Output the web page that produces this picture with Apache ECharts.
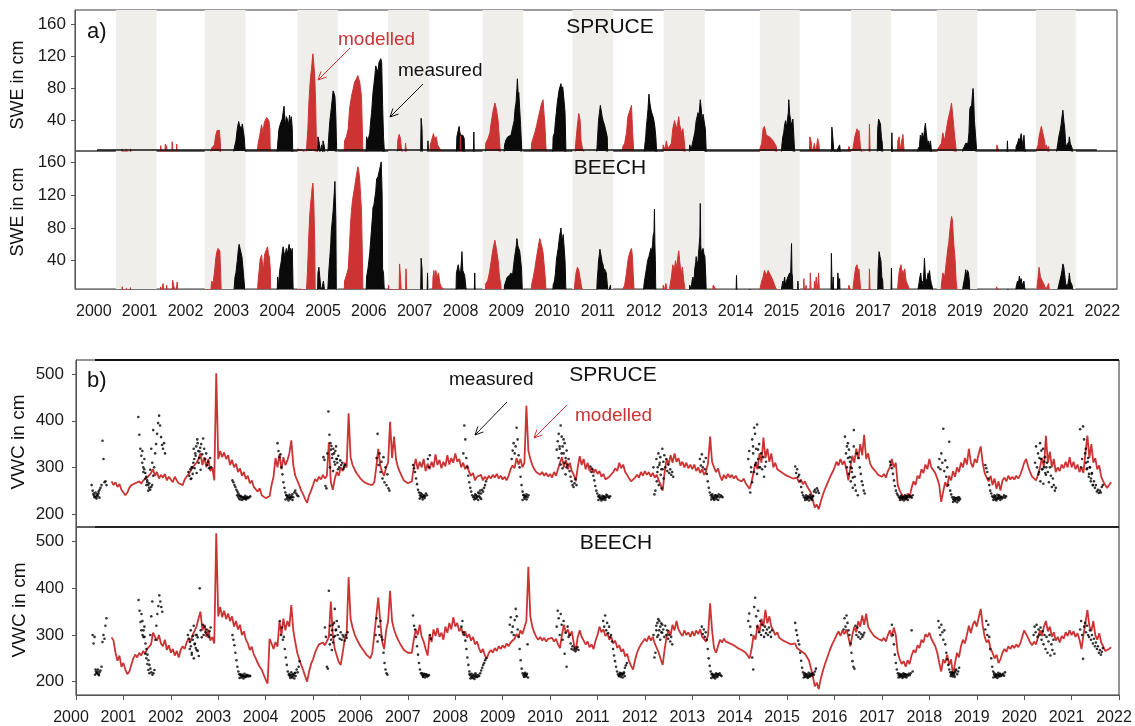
<!DOCTYPE html>
<html>
<head>
<meta charset="utf-8">
<script src="https://cdn.jsdelivr.net/npm/echarts@6/dist/echarts.min.js"></script>
<style>html,body{margin:0;padding:0;background:#fff}#c{width:1135px;height:726px}</style>
</head>
<body>
<div id="c"></div>
<script>
// ---------- tick labels ----------
const yearTicks = [2000,2001,2002,2003,2004,2005,2006,2007,2008,2009,2010,2011,2012,2013,2014,2015,2016,2017,2018,2019,2020,2021,2022];
const sweTicks = [40,80,120,160];
const vwcTicks = [200,300,400,500];
// shaded winters in panel a (decimal years)
const bandsA = [[2000.48,2001.37],[2002.42,2003.31],[2004.44,2005.32],[2006.42,2007.32],[2008.48,2009.37],[2010.44,2011.33],[2012.43,2013.33],[2014.53,2015.40],[2016.52,2017.39],[2018.39,2019.27],[2020.55,2021.42]];

// ---------- SWE spruce, modelled (red) : groups of [year, cm] ----------
const sweSpruceMod = [
 [[2000.61,0],[2000.62,5],[2000.64,0],[2000.70,0],[2000.71,5],[2000.73,0],[2000.79,0],[2000.80,5],[2000.82,0]],
 [[2001.45,0],[2001.46,9],[2001.48,0],[2001.55,0],[2001.56,11],[2001.59,8],[2001.60,0],[2001.70,0],[2001.71,14],[2001.73,0],[2001.80,0],[2001.81,11],[2001.82,0]],
 [[2002.55,0],[2002.57,6],[2002.60,4],[2002.63,10],[2002.66,22],[2002.69,28],[2002.71,30],[2002.74,28],[2002.76,14],[2002.77,0]],
 [[2003.57,0],[2003.58,10],[2003.62,22],[2003.66,35],[2003.69,25],[2003.72,38],[2003.74,40],[2003.77,44],[2003.79,45],[2003.82,40],[2003.84,30],[2003.85,0]],
 [[2004.44,0],[2004.45,5],[2004.50,4],[2004.54,6],[2004.58,3],[2004.60,0]],
 [[2004.63,0],[2004.64,5],[2004.67,30],[2004.69,60],[2004.71,80],[2004.73,95],[2004.75,105],[2004.77,118],[2004.78,123],[2004.80,110],[2004.82,95],[2004.84,60],[2004.86,0]],
 [[2005.46,0],[2005.47,15],[2005.51,20],[2005.55,30],[2005.58,55],[2005.62,70],[2005.66,80],[2005.69,88],[2005.73,92],[2005.76,96],[2005.80,88],[2005.84,70],[2005.87,0]],
 [[2006.62,0],[2006.63,15],[2006.66,23],[2006.69,18],[2006.72,0],[2006.79,0],[2006.80,12],[2006.82,0]],
 [[2007.33,0],[2007.34,10],[2007.38,18],[2007.41,24],[2007.44,16],[2007.47,20],[2007.50,10],[2007.54,6],[2007.58,4],[2007.60,0]],
 [[2007.99,0],[2008.00,25],[2008.01,0]],
 [[2008.54,0],[2008.55,12],[2008.60,18],[2008.64,25],[2008.67,38],[2008.71,52],[2008.75,62],[2008.78,55],[2008.82,40],[2008.85,15],[2008.87,0]],
 [[2009.54,0],[2009.55,12],[2009.62,25],[2009.66,34],[2009.69,42],[2009.73,52],[2009.76,60],[2009.78,62],[2009.80,66],[2009.82,50],[2009.84,35],[2009.87,0]],
 [[2010.50,0],[2010.51,10],[2010.55,35],[2010.58,49],[2010.61,40],[2010.63,15],[2010.66,5],[2010.70,3],[2010.71,0]],
 [[2011.53,0],[2011.54,8],[2011.58,12],[2011.62,25],[2011.65,45],[2011.69,52],[2011.73,59],[2011.75,30],[2011.78,0]],
 [[2012.41,0],[2012.42,10],[2012.46,4],[2012.49,15],[2012.52,5],[2012.56,3],[2012.60,12],[2012.63,30],[2012.67,40],[2012.71,30],[2012.74,38],[2012.76,45],[2012.78,35],[2012.82,25],[2012.85,30],[2012.89,10],[2012.90,0]],
 [[2014.52,0],[2014.53,5],[2014.57,12],[2014.60,30],[2014.63,33],[2014.67,22],[2014.71,24],[2014.74,20],[2014.78,22],[2014.82,15],[2014.85,16],[2014.89,8],[2014.90,0]],
 [[2015.61,0],[2015.62,20],[2015.65,14],[2015.67,0],[2015.71,0],[2015.72,12],[2015.75,0],[2015.78,0],[2015.79,18],[2015.82,10],[2015.83,0]],
 [[2016.46,0],[2016.47,8],[2016.50,3],[2016.56,5],[2016.60,20],[2016.63,26],[2016.65,30],[2016.67,20],[2016.69,28],[2016.72,10],[2016.74,0],[2016.91,0],[2016.92,36],[2016.935,0]],
 [[2017.53,0],[2017.54,15],[2017.57,20],[2017.59,4],[2017.63,3],[2017.65,23],[2017.67,8],[2017.68,0]],
 [[2018.40,0],[2018.41,5],[2018.45,3],[2018.49,12],[2018.52,25],[2018.56,15],[2018.60,30],[2018.63,40],[2018.67,50],[2018.69,55],[2018.71,62],[2018.74,45],[2018.78,20],[2018.81,5],[2018.82,0]],
 [[2019.69,0],[2019.70,10],[2019.72,6],[2019.74,8],[2019.75,0]],
 [[2020.56,0],[2020.57,5],[2020.60,10],[2020.62,20],[2020.65,28],[2020.67,33],[2020.70,25],[2020.74,15],[2020.76,5],[2020.78,10],[2020.81,4],[2020.83,8],[2020.84,0]]
];
// ---------- SWE spruce, measured (black) ----------
const sweSpruceMeas = [
 [[2003.05,0],[2003.06,5],[2003.10,15],[2003.13,30],[2003.16,39],[2003.18,34],[2003.20,35],[2003.22,30],[2003.24,36],[2003.26,28],[2003.28,20],[2003.30,4],[2003.33,3],[2003.34,0]],
 [[2004.00,0],[2004.01,10],[2004.04,30],[2004.07,36],[2004.09,38],[2004.11,42],[2004.13,50],[2004.15,58],[2004.17,40],[2004.18,36],[2004.20,45],[2004.22,42],[2004.25,35],[2004.27,47],[2004.29,38],[2004.31,45],[2004.33,30],[2004.34,0]],
 [[2004.88,0],[2004.89,20],[2004.92,12],[2004.93,0],[2004.96,0],[2004.97,10],[2004.99,0],[2005.00,15],[2005.03,8],[2005.04,0]],
 [[2005.10,0],[2005.11,5],[2005.13,25],[2005.15,40],[2005.17,50],[2005.18,55],[2005.20,66],[2005.22,77],[2005.24,74],[2005.26,70],[2005.28,45],[2005.29,20],[2005.30,0]],
 [[2005.94,0],[2005.95,20],[2005.98,15],[2006.02,25],[2006.04,40],[2006.06,50],[2006.09,75],[2006.11,85],[2006.13,95],[2006.15,108],[2006.17,105],[2006.20,100],[2006.22,112],[2006.24,110],[2006.26,117],[2006.28,112],[2006.30,60],[2006.32,20],[2006.34,0]],
 [[2007.13,0],[2007.14,43],[2007.16,30],[2007.17,0]],
 [[2007.28,0],[2007.29,15],[2007.30,0]],
 [[2007.91,0],[2007.92,20],[2007.95,28],[2007.97,33],[2007.99,22],[2008.02,20],[2008.05,22],[2008.08,18],[2008.09,0]],
 [[2008.28,0],[2008.29,26],[2008.30,0]],
 [[2008.95,0],[2008.96,10],[2008.99,16],[2009.03,20],[2009.06,18],[2009.10,22],[2009.13,24],[2009.15,35],[2009.17,40],[2009.19,55],[2009.21,62],[2009.23,80],[2009.24,92],[2009.26,70],[2009.27,75],[2009.29,55],[2009.31,35],[2009.33,10],[2009.34,0]],
 [[2010.01,0],[2010.02,20],[2010.05,25],[2010.07,40],[2010.09,50],[2010.11,62],[2010.13,70],[2010.15,78],[2010.17,82],[2010.19,86],[2010.21,78],[2010.23,82],[2010.25,70],[2010.28,50],[2010.30,0]],
 [[2010.97,0],[2010.98,10],[2011.00,30],[2011.01,40],[2011.03,50],[2011.05,59],[2011.07,52],[2011.09,45],[2011.11,40],[2011.12,42],[2011.14,35],[2011.16,30],[2011.18,25],[2011.20,20],[2011.21,0]],
 [[2012.01,0],[2012.02,10],[2012.04,20],[2012.05,30],[2012.07,42],[2012.09,55],[2012.11,73],[2012.13,62],[2012.14,60],[2012.16,52],[2012.18,50],[2012.20,45],[2012.22,40],[2012.24,32],[2012.26,20],[2012.28,0]],
 [[2012.99,0],[2013.00,10],[2013.03,5],[2013.06,12],[2013.09,20],[2013.11,25],[2013.13,35],[2013.14,40],[2013.16,45],[2013.18,50],[2013.20,45],[2013.23,66],[2013.25,55],[2013.27,40],[2013.29,48],[2013.31,50],[2013.34,30],[2013.36,0]],
 [[2015.00,0],[2015.01,10],[2015.03,20],[2015.05,25],[2015.07,35],[2015.09,40],[2015.11,32],[2015.13,30],[2015.15,50],[2015.16,66],[2015.18,48],[2015.19,45],[2015.21,38],[2015.23,35],[2015.25,42],[2015.27,40],[2015.29,0]],
 [[2016.09,0],[2016.10,32],[2016.12,20],[2016.14,4],[2016.16,0],[2016.22,0],[2016.23,5],[2016.25,4],[2016.27,10],[2016.29,0]],
 [[2017.09,0],[2017.10,30],[2017.12,42],[2017.14,40],[2017.16,36],[2017.18,20],[2017.20,12],[2017.21,0]],
 [[2017.40,0],[2017.41,25],[2017.42,0]],
 [[2017.97,0],[2017.98,5],[2018.01,8],[2018.03,22],[2018.05,15],[2018.07,25],[2018.10,18],[2018.12,28],[2018.14,37],[2018.16,25],[2018.17,20],[2018.19,10],[2018.21,15],[2018.23,8],[2018.25,15],[2018.27,5],[2018.28,0]],
 [[2018.95,0],[2018.96,5],[2018.99,8],[2019.02,12],[2019.05,14],[2019.07,12],[2019.09,25],[2019.11,55],[2019.13,58],[2019.14,50],[2019.16,68],[2019.18,80],[2019.19,72],[2019.21,40],[2019.23,25],[2019.25,10],[2019.26,0]],
 [[2019.92,0],[2019.93,15],[2019.94,0]],
 [[2020.11,0],[2020.12,8],[2020.15,12],[2020.18,18],[2020.20,15],[2020.23,24],[2020.25,15],[2020.27,8],[2020.29,22],[2020.31,5],[2020.33,0]],
 [[2021.00,0],[2021.01,5],[2021.03,12],[2021.05,20],[2021.08,28],[2021.10,35],[2021.12,45],[2021.14,53],[2021.16,40],[2021.18,30],[2021.20,12],[2021.21,8],[2021.23,6],[2021.25,10],[2021.27,14],[2021.28,20],[2021.30,12],[2021.32,10],[2021.34,6],[2021.35,8],[2021.36,0]]
];
// ---------- SWE beech, modelled (red) ----------
const sweBeechMod = [
 [[2000.61,0],[2000.62,8],[2000.64,0],[2000.70,0],[2000.71,6],[2000.73,0],[2000.79,0],[2000.80,7],[2000.82,0]],
 [[2001.45,0],[2001.46,8],[2001.48,0],[2001.50,0],[2001.51,12],[2001.53,0],[2001.58,0],[2001.59,10],[2001.61,0],[2001.71,0],[2001.72,16],[2001.74,10],[2001.77,8],[2001.79,0],[2001.81,0],[2001.82,14],[2001.83,0]],
 [[2002.45,0],[2002.46,5],[2002.48,0],[2002.55,0],[2002.57,15],[2002.60,12],[2002.62,20],[2002.64,30],[2002.66,42],[2002.68,50],[2002.71,55],[2002.73,54],[2002.75,52],[2002.77,20],[2002.78,0]],
 [[2003.57,0],[2003.58,12],[2003.61,30],[2003.63,42],[2003.66,47],[2003.68,35],[2003.70,28],[2003.72,45],[2003.74,50],[2003.77,54],[2003.79,57],[2003.81,48],[2003.83,45],[2003.85,30],[2003.86,0]],
 [[2004.44,0],[2004.45,5],[2004.49,4],[2004.53,5],[2004.57,3],[2004.60,0]],
 [[2004.63,0],[2004.64,5],[2004.66,25],[2004.67,40],[2004.69,70],[2004.71,95],[2004.73,110],[2004.75,120],[2004.76,128],[2004.78,135],[2004.80,110],[2004.82,60],[2004.83,0]],
 [[2005.46,0],[2005.47,15],[2005.51,22],[2005.55,30],[2005.58,60],[2005.60,85],[2005.62,100],[2005.64,112],[2005.66,120],[2005.69,130],[2005.71,138],[2005.73,145],[2005.76,155],[2005.78,150],[2005.80,140],[2005.82,120],[2005.84,100],[2005.86,40],[2005.87,0]],
 [[2006.42,0],[2006.43,10],[2006.45,0],[2006.66,0],[2006.67,36],[2006.69,20],[2006.71,0],[2006.80,0],[2006.81,30],[2006.83,0]],
 [[2007.39,0],[2007.40,20],[2007.42,28],[2007.44,15],[2007.46,28],[2007.49,20],[2007.52,25],[2007.55,12],[2007.58,8],[2007.62,6],[2007.65,4],[2007.66,0]],
 [[2008.54,0],[2008.55,12],[2008.59,15],[2008.63,25],[2008.67,40],[2008.71,55],[2008.75,65],[2008.78,55],[2008.82,40],[2008.85,20],[2008.88,10],[2008.89,0]],
 [[2009.54,0],[2009.55,10],[2009.58,18],[2009.62,30],[2009.66,45],[2009.69,55],[2009.71,62],[2009.73,67],[2009.76,60],[2009.78,56],[2009.80,50],[2009.84,25],[2009.87,0]],
 [[2010.48,0],[2010.49,10],[2010.52,25],[2010.55,32],[2010.58,28],[2010.61,18],[2010.64,8],[2010.67,3],[2010.68,0]],
 [[2011.53,0],[2011.54,5],[2011.58,10],[2011.62,25],[2011.65,40],[2011.69,50],[2011.73,55],[2011.75,45],[2011.77,20],[2011.79,0]],
 [[2012.41,0],[2012.42,10],[2012.45,4],[2012.48,12],[2012.51,3],[2012.56,6],[2012.60,20],[2012.63,35],[2012.66,28],[2012.69,40],[2012.72,30],[2012.74,45],[2012.76,52],[2012.78,40],[2012.81,25],[2012.84,32],[2012.87,15],[2012.89,8],[2012.90,0]],
 [[2013.50,0],[2013.51,10],[2013.54,8],[2013.57,5],[2013.58,0]],
 [[2014.52,0],[2014.53,5],[2014.57,15],[2014.60,20],[2014.63,28],[2014.67,22],[2014.71,28],[2014.74,27],[2014.78,20],[2014.82,15],[2014.85,10],[2014.89,5],[2014.90,0]],
 [[2015.48,0],[2015.49,18],[2015.50,0],[2015.53,0],[2015.54,10],[2015.55,0],[2015.62,0],[2015.63,25],[2015.65,0],[2015.71,0],[2015.72,15],[2015.74,8],[2015.76,20],[2015.78,0],[2015.80,0],[2015.81,25],[2015.83,0]],
 [[2016.46,0],[2016.47,10],[2016.50,3],[2016.56,5],[2016.59,20],[2016.62,32],[2016.65,35],[2016.67,25],[2016.69,30],[2016.72,10],[2016.74,0],[2016.91,0],[2016.92,30],[2016.935,0]],
 [[2017.53,0],[2017.54,10],[2017.56,22],[2017.58,30],[2017.61,35],[2017.63,25],[2017.65,28],[2017.67,22],[2017.69,30],[2017.72,15],[2017.76,10],[2017.80,8],[2017.81,0]],
 [[2018.48,0],[2018.49,10],[2018.52,25],[2018.56,20],[2018.58,30],[2018.60,40],[2018.63,55],[2018.65,62],[2018.67,75],[2018.69,85],[2018.71,94],[2018.73,90],[2018.76,60],[2018.79,40],[2018.81,15],[2018.83,5],[2018.84,0]],
 [[2019.68,0],[2019.69,8],[2019.72,5],[2019.75,3],[2019.76,0]],
 [[2020.56,0],[2020.57,5],[2020.60,20],[2020.62,32],[2020.65,20],[2020.67,22],[2020.69,15],[2020.72,12],[2020.74,10],[2020.77,5],[2020.81,5],[2020.83,12],[2020.85,0]]
];
// ---------- SWE beech, measured (black) ----------
const sweBeechMeas = [
 [[2003.05,0],[2003.06,5],[2003.08,20],[2003.10,25],[2003.12,35],[2003.13,40],[2003.15,52],[2003.17,60],[2003.19,58],[2003.21,58],[2003.23,45],[2003.24,40],[2003.26,42],[2003.28,38],[2003.30,0]],
 [[2004.00,0],[2004.01,20],[2004.03,5],[2004.04,18],[2004.06,30],[2004.08,36],[2004.09,40],[2004.11,50],[2004.13,57],[2004.15,50],[2004.17,45],[2004.19,52],[2004.20,55],[2004.22,48],[2004.24,50],[2004.26,60],[2004.28,52],[2004.29,55],[2004.31,50],[2004.33,55],[2004.35,0]],
 [[2004.88,0],[2004.89,25],[2004.91,32],[2004.93,20],[2004.95,8],[2004.97,4],[2004.99,10],[2005.01,15],[2005.03,5],[2005.04,0]],
 [[2005.10,0],[2005.11,10],[2005.13,30],[2005.15,45],[2005.17,62],[2005.18,75],[2005.20,88],[2005.22,100],[2005.24,118],[2005.26,137],[2005.28,90],[2005.29,0]],
 [[2005.94,0],[2005.95,20],[2005.98,30],[2006.00,40],[2006.02,50],[2006.04,65],[2006.06,80],[2006.08,95],[2006.09,105],[2006.11,108],[2006.13,110],[2006.15,125],[2006.17,140],[2006.19,142],[2006.20,143],[2006.22,148],[2006.24,150],[2006.26,158],[2006.27,161],[2006.29,120],[2006.30,30],[2006.32,25],[2006.34,0]],
 [[2007.13,0],[2007.14,43],[2007.16,30],[2007.17,0]],
 [[2007.27,0],[2007.28,25],[2007.29,0]],
 [[2007.90,0],[2007.91,25],[2007.93,30],[2007.95,35],[2007.97,28],[2007.98,30],[2008.00,25],[2008.02,40],[2008.03,51],[2008.05,28],[2008.07,30],[2008.09,22],[2008.11,20],[2008.13,0]],
 [[2008.30,0],[2008.31,25],[2008.32,0]],
 [[2008.95,0],[2008.96,10],[2008.99,15],[2009.02,20],[2009.05,18],[2009.07,22],[2009.10,25],[2009.12,22],[2009.14,25],[2009.16,35],[2009.18,45],[2009.20,52],[2009.22,60],[2009.23,67],[2009.25,58],[2009.27,55],[2009.29,52],[2009.31,50],[2009.33,30],[2009.35,0]],
 [[2010.01,0],[2010.02,10],[2010.05,15],[2010.07,25],[2010.09,40],[2010.11,48],[2010.13,55],[2010.15,65],[2010.16,70],[2010.18,76],[2010.19,80],[2010.21,68],[2010.22,65],[2010.24,72],[2010.26,70],[2010.28,40],[2010.30,0]],
 [[2010.97,0],[2010.98,15],[2011.00,30],[2011.01,40],[2011.03,48],[2011.04,54],[2011.06,48],[2011.07,45],[2011.09,38],[2011.11,35],[2011.13,25],[2011.14,30],[2011.16,28],[2011.18,25],[2011.20,12],[2011.22,0],[2011.26,0],[2011.27,10],[2011.28,0]],
 [[2011.99,0],[2012.00,10],[2012.02,18],[2012.04,25],[2012.06,32],[2012.08,40],[2012.10,42],[2012.11,45],[2012.13,50],[2012.15,55],[2012.17,52],[2012.19,60],[2012.20,70],[2012.22,75],[2012.23,103],[2012.24,60],[2012.25,40],[2012.26,0]],
 [[2012.99,0],[2013.00,10],[2013.03,5],[2013.05,15],[2013.07,20],[2013.09,12],[2013.11,30],[2013.13,38],[2013.14,45],[2013.16,35],[2013.18,40],[2013.20,55],[2013.22,70],[2013.23,110],[2013.24,60],[2013.25,50],[2013.27,52],[2013.29,55],[2013.31,48],[2013.33,45],[2013.35,20],[2013.36,0]],
 [[2014.01,0],[2014.02,22],[2014.03,0]],
 [[2014.30,0],[2014.31,5],[2014.32,0]],
 [[2014.99,0],[2015.00,5],[2015.03,15],[2015.05,12],[2015.07,20],[2015.09,10],[2015.11,15],[2015.14,20],[2015.16,18],[2015.18,25],[2015.20,22],[2015.22,61],[2015.23,25],[2015.24,20],[2015.25,0],[2015.35,0],[2015.36,15],[2015.37,0]],
 [[2016.08,0],[2016.09,49],[2016.10,20],[2016.11,0],[2016.12,0],[2016.13,20],[2016.14,0],[2016.22,0],[2016.23,25],[2016.25,12],[2016.27,18],[2016.28,0]],
 [[2017.10,0],[2017.11,30],[2017.13,51],[2017.15,45],[2017.17,40],[2017.19,20],[2017.21,15],[2017.22,0]],
 [[2017.39,0],[2017.40,31],[2017.41,0]],
 [[2017.97,0],[2017.98,5],[2018.00,12],[2018.02,20],[2018.04,25],[2018.06,12],[2018.07,15],[2018.09,10],[2018.11,30],[2018.12,43],[2018.14,20],[2018.16,15],[2018.18,18],[2018.20,25],[2018.21,20],[2018.23,28],[2018.25,18],[2018.27,12],[2018.29,8],[2018.30,0]],
 [[2018.95,0],[2018.96,8],[2018.98,10],[2019.00,20],[2019.02,29],[2019.04,22],[2019.06,28],[2019.08,25],[2019.10,15],[2019.11,0]],
 [[2019.93,0],[2019.94,5],[2019.95,0]],
 [[2020.11,0],[2020.12,8],[2020.15,15],[2020.17,12],[2020.19,21],[2020.21,15],[2020.23,18],[2020.25,10],[2020.27,12],[2020.29,15],[2020.31,5],[2020.33,0]],
 [[2021.02,0],[2021.03,5],[2021.05,10],[2021.07,15],[2021.10,22],[2021.12,28],[2021.14,36],[2021.16,32],[2021.18,30],[2021.20,12],[2021.21,10],[2021.23,8],[2021.25,12],[2021.27,18],[2021.28,25],[2021.30,15],[2021.32,15],[2021.34,10],[2021.35,10],[2021.37,0]]
];

// ---------- VWC modelled: rows [start year, values every 1/24 year] ----------
const vwcSpruceMod = [
 [2000.75, 270,262,268,258,264,252],
 [2001.0, 248,240,246,256,262,258,266,262,270,265,272,268],
 [2001.5, 278,274,288,296,282,290,276,284,278,286,272,280],
 [2002.0, 276,268,280,272,266,270,262,274,280,286,292,300],
 [2002.5, 300,310,318,330,305,322,300,318,292,300,272,502],
 [2003.0, 318,335,322,332,318,326,305,316,300,308,290,298],
 [2003.5, 282,290,275,282,266,272,258,262,248,255,240,236],
 [2004.0, 234,230,238,262,280,320,300,328,296,322,305,315],
 [2004.5, 330,358,305,282,272,262,250,242,232,224,240,250],
 [2005.0, 262,275,270,280,274,284,276,282,354,268,252,275],
 [2005.5, 290,282,300,292,310,300,416,322,305,296,288,282],
 [2006.0, 276,272,268,266,264,268,262,268,300,340,305,290],
 [2006.5, 282,300,310,398,320,366,318,300,290,280,272,268],
 [2007.0, 266,264,270,300,318,296,312,300,318,292,308,296],
 [2007.5, 312,300,328,305,316,298,312,302,326,306,320,310],
 [2008.0, 330,312,318,300,310,296,305,290,282,288,272,280],
 [2008.5, 276,284,272,280,274,282,276,284,278,286,276,282],
 [2009.0, 274,280,272,282,296,304,298,320,306,318,300,310],
 [2009.5, 432,336,318,305,296,290,294,284,290,282,288,280],
 [2010.0, 286,278,290,282,296,310,322,300,316,296,310,292],
 [2010.5, 284,270,300,324,305,318,296,310,292,300,288,296],
 [2011.0, 286,292,280,286,274,270,280,276,290,298,292,310],
 [2011.5, 298,306,290,284,276,270,266,278,284,278,290,282],
 [2012.0, 292,284,290,280,288,278,284,272,262,250,290,318],
 [2012.5, 306,326,310,330,312,320,304,312,300,310,298,306],
 [2013.0, 296,306,292,300,288,296,284,292,310,366,312,300],
 [2013.5, 290,298,282,272,284,276,286,278,284,276,282,274],
 [2014.0, 278,270,276,266,260,254,268,290,310,296,330,310],
 [2014.5, 364,320,340,312,330,300,310,296,300,290,294,284],
 [2015.0, 288,280,284,276,272,278,268,274,264,270,260,264],
 [2015.5, 246,230,214,220,210,226,240,252,262,272,282,290],
 [2016.0, 300,312,304,318,306,314,296,272,300,325,310,340],
 [2016.5, 318,350,326,370,318,330,308,300,296,290,284,288],
 [2017.0, 280,286,278,292,300,318,300,310,262,250,242,236],
 [2017.5, 230,244,236,256,270,262,282,276,296,288,306,296],
 [2018.0, 318,300,296,288,276,262,226,248,268,258,282,272],
 [2018.5, 292,280,300,290,310,300,320,306,340,310,300,318],
 [2019.0, 310,330,345,310,288,278,270,282,262,276,254,270],
 [2019.5, 250,272,278,270,282,274,280,274,282,276,284,296],
 [2020.0, 310,318,302,290,280,276,272,284,300,320,300,368],
 [2020.5, 310,334,300,318,290,300,292,306,298,312,300,322],
 [2021.0, 300,312,296,306,290,300,288,330,368,320,350,310],
 [2021.5, 320,296,304,280,270,262,256,262,268]
];
const vwcBeechMod = [
 [2000.75, 295,288,262,245,256,232],
 [2001.0, 240,226,216,222,236,250,258,252,262,256,266,260],
 [2001.5, 270,266,280,305,296,288,300,282,276,290,268,278],
 [2002.0, 262,270,256,266,252,268,276,270,284,292,286,300],
 [2002.5, 298,318,335,350,310,322,296,312,288,296,282,518],
 [2003.0, 340,360,338,352,334,346,330,340,318,330,312,322],
 [2003.5, 300,308,290,282,268,275,258,250,240,232,226,215],
 [2004.0, 205,196,292,282,270,285,275,330,300,335,310,330],
 [2004.5, 318,364,310,285,262,248,236,225,212,200,222,238],
 [2005.0, 248,262,272,280,276,284,278,282,296,372,300,270],
 [2005.5, 256,242,236,262,290,300,424,335,316,302,292,284],
 [2006.0, 276,270,264,258,254,250,262,300,340,380,330,285],
 [2006.5, 270,310,330,395,330,312,300,290,282,275,268,264],
 [2007.0, 262,266,262,290,312,300,322,296,286,270,256,300],
 [2007.5, 285,312,298,315,296,305,290,318,305,326,312,338],
 [2008.0, 318,326,308,316,300,308,294,302,288,296,280,286],
 [2008.5, 272,262,270,256,250,262,268,262,272,266,276,270],
 [2009.0, 278,272,282,276,284,280,292,302,296,310,302,316],
 [2009.5, 330,446,340,318,305,296,290,296,288,294,286,292],
 [2010.0, 288,294,286,292,280,272,300,322,304,312,298,308],
 [2010.5, 282,266,296,310,296,288,280,286,274,280,270,288],
 [2011.0, 300,318,306,312,298,304,290,296,282,288,272,278],
 [2011.5, 264,270,254,260,244,234,226,246,262,272,280,286],
 [2012.0, 292,286,298,288,296,282,278,262,248,236,270,296],
 [2012.5, 310,300,322,310,330,312,304,298,310,300,306,296],
 [2013.0, 308,298,310,302,312,296,292,286,300,368,310,272],
 [2013.5, 262,276,290,284,292,286,290,282,286,278,282,272],
 [2014.0, 276,268,272,262,256,250,270,300,290,322,305,335],
 [2014.5, 318,354,325,340,318,310,300,306,294,298,288,292],
 [2015.0, 284,288,280,276,282,272,276,266,270,260,262,246],
 [2015.5, 230,212,190,198,184,206,222,236,248,260,272,282],
 [2016.0, 290,300,308,298,310,302,312,296,276,300,318,306],
 [2016.5, 330,318,342,322,346,318,310,304,298,300,292,296],
 [2017.0, 288,294,286,300,310,296,316,300,262,248,238,244],
 [2017.5, 232,246,238,256,268,262,278,272,290,284,302,296],
 [2018.0, 305,292,288,276,262,240,222,248,240,258,236,248],
 [2018.5, 214,240,262,252,276,290,282,300,320,304,322,330],
 [2019.0, 318,338,356,320,296,284,290,270,262,250,258,240],
 [2019.5, 248,262,270,264,276,270,278,272,280,274,282,296],
 [2020.0, 310,302,294,284,278,286,280,296,310,298,318,330],
 [2020.5, 308,318,296,306,288,296,284,298,292,306,298,310],
 [2021.0, 300,308,296,304,290,270,300,326,354,320,308,330],
 [2021.5, 300,290,304,284,276,266,262,270,274]
];
// ---------- VWC measured: rows [start year, values every 1/48 year] ----------
const vwcSpruceMeas = [
 [2000.33, 262,250,244,238,236,242,240,248,252,256,262,357,318,268,270,262],
 [2000.37, 241,236,246,233,238,244,235],
 [2001.315, 408,370,340,325,310,300,296,288,280,272,262,256,252,258,262,282,300,330,350,372,395,411,390,365,348,340,352,330],
 [2001.40, 335,290,318,276,262,268,250,266,295,340,310,380],
 [2002.37, 290,282,296,276,300,310,318,330,345,360,335,320,342,350,328,362,340,318,330,305,312,298,320,300],
 [2002.42, 275,300,286,340,298,325,288,352,310,334,295],
 [2003.30, 272,268,262,258,252,248,244,240,238,236,235,234,236,234,233,235,234,236,238],
 [2003.40, 240,237,233,231,238,230,236,232,239,231,237],
 [2004.25, 352,335,322,328,300,285,268,256,246,240,236,238,234,236,238,242,236,246,250,244,240,238],
 [2004.42, 231,240,233,229,241,232,236,230],
 [2005.22, 322,316,260,255,330,420,370,352,346,328,340,312,335,318,310,325,300,315,305,310,296,300,305],
 [2005.36, 300,338,320,292,330,306,345,318,296],
 [2006.34, 320,372,305,330,290,312,276,322,268,300,262,285,255,250],
 [2007.11, 305,298,290,276,264,252,246,240,238,242,236,240,238,244,240,318,300,326],
 [2007.25, 233,245,236,231,238,234],
 [2008.17, 330,390,360,320,300,282,268,256,248,240,236,238,234,240,236,246,238,250,244,252,248,256,262,270],
 [2008.40, 231,242,233,238,230,244,235,232],
 [2009.19, 318,336,352,330,345,385,360,326,300,280,262,248,240,236,238,242,236,240],
 [2009.42, 230,241,233,238,231],
 [2010.14, 338,356,372,340,390,366,345,330,352,320,336,306,318,292,280,270,262,258,266,275,262],
 [2010.18, 320,345,306,330,298,360,310,285,300],
 [2010.85, 302,290,296,282,272,260,250,244,238,236,234,236,232,235,238,234,236,240,237,235,238],
 [2011.02, 230,240,233,229,239,231,236,230,241],
 [2012.18, 300,242,250,318,290,330,305,322,296,340,312,326,300,318,292,306,288,296,284,290,280],
 [2012.25, 270,300,262,310,284,255,296,276],
 [2013.16, 318,304,328,300,312,296,320,286,270,256,246,240,236,238,234,236,240,236,238,242,236,240,238,236],
 [2013.40, 231,242,233,230,240,232,238,230],
 [2014.18, 318,335,246,290,360,330,385,305,340,392,318,350,300,330,296,322,280,302,312],
 [2014.24, 300,268,345,290,372,310,286,338,300],
 [2015.17, 302,288,296,280,284,270,258,246,240,236,234,236,233,236,235,237,234,236,238,248,252,246,255,250,245],
 [2015.38, 230,240,231,238,229,241,233,230,239],
 [2016.22, 366,330,345,320,338,312,300,290,278,380,262,250,330,240,320,300,286,270,262,250,244],
 [2016.26, 300,352,286,322,270,298,256,345,280],
 [2017.17, 312,305,298,286,272,260,250,244,240,236,235,234,236,233,236,234,238,235,236,240,236,238,235,240],
 [2017.38, 230,239,231,237,229,240,232,238,230],
 [2018.19, 300,318,296,330,310,383,292,315,280,300,262,355,250,242,236,232,230,233,231,234,230,236,232],
 [2018.50, 226,236,228,234,225,235,229],
 [2019.18, 305,298,290,276,262,250,244,238,236,234,238,235,232,236,240,234,237,233,236,240,235,238],
 [2019.35, 230,240,231,229,241,233,238,230,236],
 [2020.23, 310,345,300,330,290,352,318,296,340,300,322,284,310,290,268,300,282,258,276,262,250,256],
 [2020.30, 285,320,270,336,296,265,312,288,300],
 [2021.18, 382,300,318,388,360,330,310,298,320,286,300,276,288,262,270,256,262,248,252,245,250,246,258,262],
 [2021.30, 340,296,312,280,300,270,286,262]
];
const vwcBeechMeas = [
 [2000.35, 300,282,296,226,218,222,216,220,224,232,285,300,292,320,336],
 [2000.40, 215,222,218,226,214],
 [2001.32, 375,352,328,345,300,310,296,282,270,258,246,236,228,220,215,218,225,290,320,345,362,385,372,360,350],
 [2001.38, 310,330,296,318,260,250,238,225,218,300,340,372],
 [2002.36, 300,292,285,276,262,298,250,282,272,300,266,255,400,310,295,322,300,318,306,312,300,296,308,316],
 [2002.40, 270,310,258,290,320,280,300,268,295],
 [2003.30, 300,290,278,262,246,232,222,216,214,212,213,211,212,210,212,214,211,213,212],
 [2003.45, 208,216,209,215,207,217,210,214],
 [2004.30, 330,300,316,290,296,270,252,236,222,215,212,214,210,216,213,218,212,226,220,232,244],
 [2004.50, 217,208,220,209,215,207,219],
 [2005.25, 316,296,232,228,395,280,300,268,322,296,356,310,330,300,318,292,306,290,300,296,288,300,294,306],
 [2005.36, 320,290,310,284,326,298,312],
 [2006.32, 300,336,286,318,300,330,296,290,262,240,226,218,215],
 [2007.11, 342,320,312,296,276,258,240,226,218,215,212,214,216,213,215,212,214,300,292],
 [2007.30, 218,210,217,209,216,211],
 [2008.13, 318,330,306,300,288,270,252,236,222,214,210,212,209,213,211,215,210,214,212,218,224,230,236,240,246,250],
 [2008.30, 216,207,217,208,215,206,218,210],
 [2009.15, 322,338,306,318,300,332,356,340,312,296,270,246,228,218,214,216,213,215,280],
 [2009.45, 210,219,211,217,209],
 [2010.14, 318,352,336,300,345,322,290,330,260,305,232,318,296,300,282,270,276,268,272,265,270,274,268],
 [2011.12, 330,318,342,310,326,304,318,296,300,286,270,256,244,232,222,216,213,215,218,214,216,220,230,235,240],
 [2011.45, 212,219,210,217,209,218,212],
 [2012.18, 300,252,262,310,326,300,330,318,306,322,312,296,320,300,310,292,300,286,296,280],
 [2012.24, 320,296,334,310,290,325,305],
 [2013.20, 318,302,312,296,306,290,270,250,234,222,216,212,214,210,213,216,212,215,218,214,212],
 [2013.40, 208,217,209,215,207,218,210,216],
 [2014.18, 330,346,318,300,252,226,360,380,340,318,352,306,330,300,322,310,296,318,304,312,300,316,306,296,310],
 [2015.17, 326,310,300,288,280,262,245,230,220,215,212,216,213,210,214,212,216,213,218,215,222,228],
 [2015.35, 209,218,210,216,208,219,211,217],
 [2016.19, 312,336,318,342,326,310,300,282,262,244,232,228,320,300,316,296,306,292,302,296,300,305],
 [2017.21, 322,300,280,258,240,226,218,214,212,215,213,211,214,216,212,215,213,217,214,218,310,222],
 [2017.35, 209,217,210,216,208,218,210,216,209],
 [2018.19, 330,316,300,322,306,290,310,280,262,248,236,226,220,216,215,218,214,220,226,216,222,230],
 [2018.45, 212,220,211,219,210,224],
 [2019.18, 312,330,300,322,296,270,250,232,222,215,212,214,211,215,213,216,212,214,217,213,220],
 [2019.35, 209,218,210,216,208,219,211,217],
 [2020.20, 300,318,306,322,296,312,300,316,290,308,280,300,270,296,262,286,300,256,280,268,290,260],
 [2021.18, 312,330,300,249,318,326,306,320,300,296,310,290,300,282,292,276,284,270,276,262,268,258,264,272]
];

// ---------- helpers to build series tables ----------
function flatGroups(groups){
  const out=[];
  groups.forEach(g=>{ g.forEach(p=>out.push(p)); out.push([g[g.length-1][0]+0.0005,'-']); });
  return out;
}
function stepRows(rows, step){
  const out=[];
  rows.forEach(r=>{ for(let i=1;i<r.length;i++) out.push([+(r[0]+(i-1)*step).toFixed(4), r[i]]); });
  return out;
}

const FONT = '"Liberation Sans", Arial, Helvetica, sans-serif';
const RED = '#cc3434';
const BAND = '#efeeeb';

function hiddenX(grid, min, max){
  return {type:'value', gridIndex:grid, min:min, max:max, axisLine:{show:false}, axisTick:{show:false}, axisLabel:{show:false}, splitLine:{show:false}};
}
function yAx(grid, min, max, ticks, margin){
  return {type:'value', gridIndex:grid, min:min, max:max,
    axisLine:{show:true, lineStyle:{color:'#555', width:1}},
    axisTick:{show:true, length:4, customValues:ticks, lineStyle:{color:'#555'}},
    axisLabel:{show:true, customValues:ticks, fontSize:17, color:'#1a1a1a', fontFamily:FONT, margin:margin},
    splitLine:{show:false}};
}
function bandSeries(xi, yi){
  return {type:'line', xAxisIndex:xi, yAxisIndex:yi, data:[[2000,-1000],[2001,-1000]], symbol:'none', silent:true, z:1,
    lineStyle:{opacity:0}, markArea:{silent:true, itemStyle:{color:BAND}, data: bandsA.map(b=>[{xAxis:b[0]},{xAxis:b[1]}])}};
}
function areaSeries(xi, yi, data, color){
  return {type:'line', xAxisIndex:xi, yAxisIndex:yi, data:data, symbol:'none', showSymbol:false, connectNulls:false,
    lineStyle:{color:color, width:1}, areaStyle:{color:color, opacity:1}, z:3, animation:false};
}

function txt(x, y, text, size, color, align, rot){
  const o = {type:'text', x:x, y:y, silent:true, z:100,
    style:{text:text, fill:color||'#111', font: size+'px '+FONT, align:align||'left', verticalAlign:'middle', textAlign:align||'left', textVerticalAlign:'middle'}};
  if(rot) o.rotation = rot;
  return o;
}
function arrow(x1,y1,x2,y2,color){
  const dx=x1-x2, dy=y1-y2, L=Math.sqrt(dx*dx+dy*dy), ux=dx/L, uy=dy/L, h=9, c=Math.cos(0.45), s=Math.sin(0.45);
  const a=[x2+h*(ux*c-uy*s), y2+h*(ux*s+uy*c)], b=[x2+h*(ux*c+uy*s), y2+h*(-ux*s+uy*c)];
  return [
    {type:'line', silent:true, z:100, shape:{x1:x1,y1:y1,x2:x2,y2:y2}, style:{stroke:color, lineWidth:1}},
    {type:'polyline', silent:true, z:100, shape:{points:[a,[x2,y2],b]}, style:{stroke:color, lineWidth:1, fill:null}}
  ];
}

const chart = echarts.init(document.getElementById('c'), null, {renderer:'canvas'});
const option = {
  animation:false,
  backgroundColor:'#ffffff',
  grid:[
    {left:75, top:10, width:1042, height:141, show:true, borderColor:'#3a3a3a', borderWidth:1},
    {left:75, top:151, width:1042, height:138, show:true, borderColor:'#3a3a3a', borderWidth:1},
    {left:76, top:360, width:1043, height:167, show:true, borderColor:'#2a2a2a', borderWidth:1},
    {left:76, top:527, width:1043, height:168, show:true, borderColor:'#2a2a2a', borderWidth:1}
  ],
  xAxis:[
    hiddenX(0, 1999.59, 2022.32),
    {type:'value', gridIndex:1, min:1999.59, max:2022.32,
      axisLine:{show:true, onZero:false, lineStyle:{color:'#777'}}, axisTick:{show:false},
      axisLabel:{show:true, customValues:yearTicks, fontSize:16, color:'#1a1a1a', fontFamily:FONT, margin:15, formatter:v=>String(v)},
      splitLine:{show:false}},
    hiddenX(2, 2000, 2022),
    {type:'value', gridIndex:3, min:2000, max:2022, interval:1,
      axisLine:{show:true, onZero:false, lineStyle:{color:'#555'}},
      axisTick:{show:true, length:5, lineStyle:{color:'#555'}},
      axisLabel:{show:true, fontSize:16, color:'#1a1a1a', fontFamily:FONT, margin:15, padding:[0,10,0,0], formatter:v=>String(v)},
      splitLine:{show:false}}
  ],
  yAxis:[
    yAx(0, 2.4, 177.4, sweTicks, 9),
    yAx(1, 5.3, 174.3, sweTicks, 9),
    yAx(2, 172, 530.5, vwcTicks, 12),
    yAx(3, 171.5, 531.5, vwcTicks, 12)
  ],
  series:[
    bandSeries(0,0),
    bandSeries(1,1),
    areaSeries(0,0, flatGroups(sweSpruceMod), RED),
    areaSeries(0,0, flatGroups(sweSpruceMeas), '#0a0a0a'),
    {type:'line', xAxisIndex:0, yAxisIndex:0, data:[[2000.07,3.6],[2021.88,3.6]], symbol:'none', lineStyle:{color:'#111', width:1.6}, z:5},
    areaSeries(1,1, flatGroups(sweBeechMod), RED),
    areaSeries(1,1, flatGroups(sweBeechMeas), '#0a0a0a'),
    {type:'line', xAxisIndex:2, yAxisIndex:2, data:stepRows(vwcSpruceMod, 1/24), symbol:'none', lineStyle:{color:RED, width:1.8}, z:3},
    {type:'scatter', xAxisIndex:2, yAxisIndex:2, data:stepRows(vwcSpruceMeas, 1/48), symbol:'circle', symbolSize:2.6, itemStyle:{color:'#000'}, z:4},
    {type:'line', xAxisIndex:3, yAxisIndex:3, data:stepRows(vwcBeechMod, 1/24), symbol:'none', lineStyle:{color:RED, width:1.8}, z:3},
    {type:'scatter', xAxisIndex:3, yAxisIndex:3, data:stepRows(vwcBeechMeas, 1/48), symbol:'circle', symbolSize:2.6, itemStyle:{color:'#000'}, z:4}
  ],
  graphic:[
    {type:'line', silent:true, z:90, shape:{x1:95,y1:360,x2:1119,y2:360}, style:{stroke:'#111', lineWidth:2}},
    {type:'line', silent:true, z:90, shape:{x1:95,y1:527,x2:1119,y2:527}, style:{stroke:'#111', lineWidth:1.5}},
    txt(87, 32, 'a)', 22, '#111'),
    txt(610, 27, 'SPRUCE', 21, '#111', 'center'),
    txt(610, 168, 'BEECH', 21, '#111', 'center'),
    txt(87, 381, 'b)', 22, '#111'),
    txt(613, 375, 'SPRUCE', 21, '#111', 'center'),
    txt(616, 543, 'BEECH', 21, '#111', 'center'),
    txt(338, 40, 'modelled', 19, RED),
    txt(398, 71, 'measured', 19, '#111'),
    txt(449, 380, 'measured', 19, '#111'),
    txt(575, 416, 'modelled', 19, RED),
    txt(18, 85, 'SWE in cm', 18, '#111', 'center', Math.PI/2),
    txt(18, 212, 'SWE in cm', 18, '#111', 'center', Math.PI/2),
    txt(19, 442, 'VWC in cm', 19, '#111', 'center', Math.PI/2),
    txt(20, 610, 'VWC in cm', 19, '#111', 'center', Math.PI/2)
  ].concat(arrow(350,48,318,80,RED), arrow(423,84,390,117,'#111'), arrow(507,402,475,435,'#111'), arrow(567,405,534,438,RED))
};
chart.setOption(option);
</script>
</body>
</html>
